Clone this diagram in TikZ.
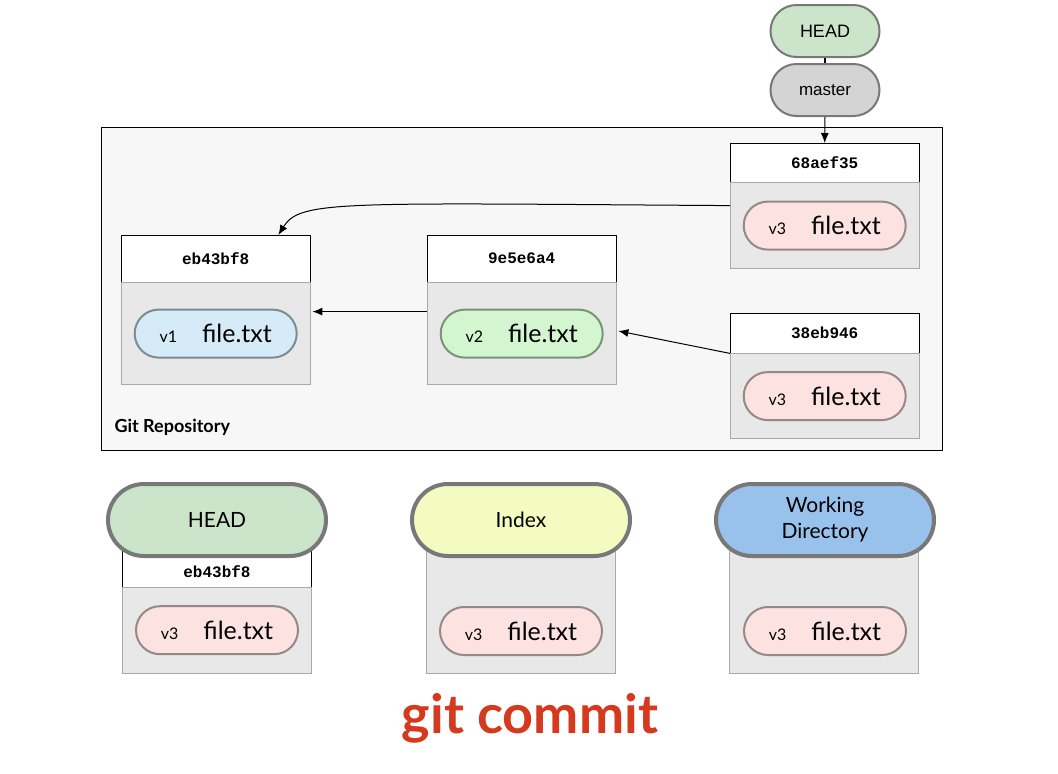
\documentclass[tikz,border=0pt]{standalone}
\usepackage{fontspec}
\setmainfont{Lato}
\setsansfont{Liberation Sans}
\setmonofont{Liberation Mono}
\usepackage{xcolor}
\usetikzlibrary{arrows.meta}
\definecolor{repofill}{HTML}{F7F7F7}
\definecolor{boxfill}{HTML}{E8E8E8}
\definecolor{boxline}{HTML}{A9A9A9}
\definecolor{bluefill}{HTML}{D5EBF7}
\definecolor{blueline}{HTML}{7B8C95}
\definecolor{greenfill}{HTML}{D3F5D0}
\definecolor{greenline}{HTML}{7A9479}
\definecolor{pinkfill}{HTML}{FDE2E2}
\definecolor{pinkline}{HTML}{978888}
\definecolor{headfill}{HTML}{CCE4C9}
\definecolor{masterfill}{HTML}{D4D4D4}
\definecolor{indexfill}{HTML}{F4FBC1}
\definecolor{wdfill}{HTML}{98C2EC}
\definecolor{pillline}{HTML}{787878}
\definecolor{cmdred}{HTML}{D63A1E}
\newcommand\blobtext[1]{{\fontsize{16}{16}\selectfont #1}\hspace{25pt}{\fontsize{25}{25}\selectfont file.txt}}
\tikzset{
  commithdr/.style={draw=black, fill=white, minimum width=189pt, inner sep=0pt,
    font=\fontsize{16}{16}\selectfont\ttfamily\bfseries},
  commitbody/.style={draw=boxline, fill=boxfill, minimum width=189pt, inner sep=0pt},
  blob/.style={draw=#1line, fill=#1fill, line width=2pt, rounded corners=24pt,
    minimum width=162pt, minimum height=48pt, inner sep=0pt},
  refpill/.style={draw=pillline, fill=#1, line width=2pt, rounded corners=26pt,
    minimum width=109pt, minimum height=52pt, inner sep=0pt,
    font=\fontsize{18}{18}\selectfont\sffamily},
  areapill/.style={draw=pillline, fill=#1, line width=4pt, rounded corners=36pt,
    minimum width=218pt, minimum height=72pt, inner sep=0pt, align=center,
    font=\fontsize{21}{26}\selectfont},
  parent/.style={-{Latex[length=10pt,width=8pt]}, line width=1pt}
}
\begin{document}
\begin{tikzpicture}[x=1pt,y=-1pt]
  \useasboundingbox[fill=white] (0,0) rectangle (1058,774);
  % repository
  \draw[fill=repofill] (101,127) rectangle (942,450);
  \node[anchor=west, font=\fontsize{18}{18}\selectfont\bfseries] (repo) at (111,427) {Git Repository};
  % commits
  \node[commithdr, minimum height=47pt, anchor=north west] (c1hdr) at (121,235) {eb43bf8};
  \node[commitbody, minimum height=102pt, anchor=north] (c1body) at (c1hdr.south) {};
  \node[blob=blue] (b1) at (c1body.center) {\blobtext{v1}};
  \node[commithdr, minimum height=47pt, anchor=north west] (c2hdr) at (427,235) {9e5e6a4};
  \node[commitbody, minimum height=102pt, anchor=north] (c2body) at (c2hdr.south) {};
  \node[blob=green] (b2) at (c2body.center) {\blobtext{v2}};
  \node[commithdr, minimum height=39pt, anchor=north west] (c3hdr) at (730,143) {68aef35};
  \node[commitbody, minimum height=86pt, anchor=north] (c3body) at (c3hdr.south) {};
  \node[blob=pink] (b3) at (c3body.center) {\blobtext{v3}};
  \node[commithdr, minimum height=40pt, anchor=north west] (c4hdr) at (730,313) {38eb946};
  \node[commitbody, minimum height=85pt, anchor=north] (c4body) at (c4hdr.south) {};
  \node[blob=pink] (b4) at (c4body.center) {\blobtext{v3}};
  % refs
  \node[refpill=headfill] (head) at (825,31) {HEAD};
  \node[refpill=masterfill, font=\fontsize{17}{17}\selectfont\sffamily] (master) at (825,90) {master};
  \draw[line width=1.5pt] (head.south) -- (master.north);
  \draw[parent] (master.south) -- (c3hdr.north);
  % parents
  \draw[parent] ([yshift=20pt]c3body.west) .. controls (340,203) and (300,200) .. ([xshift=-32pt]c1hdr.north east);
  \draw[parent, shorten >=2pt] ([yshift=22pt]c2body.west) -- ([yshift=22pt]c1body.east);
  \draw[parent, shorten >=2pt] (c4hdr.south west) -- ([yshift=3pt]c2body.east);
  % the three trees
  \node[commithdr, minimum height=47pt, anchor=south] (thdr) at (217,587) {};
  \node[commitbody, minimum height=86pt, anchor=north] (tbody) at (thdr.south) {};
  \node[font=\fontsize{16}{16}\selectfont\ttfamily\bfseries] (thash) at (217,572) {eb43bf8};
  \node[blob=pink] (tb) at (tbody.center) {\blobtext{v3}};
  \node[areapill=headfill] (thead) at (217,520) {HEAD};
  \node[commitbody, minimum height=133pt, anchor=south] (ibody) at (521,673) {};
  \node[blob=pink] (ib) at (521,631) {\blobtext{v3}};
  \node[areapill=indexfill] (index) at (521,520) {Index};
  \node[commitbody, minimum height=133pt, anchor=south] (wbody) at (824,673) {};
  \node[blob=pink] (wb) at (825,631) {\blobtext{v3}};
  \node[areapill=wdfill] (wd) at (825,520) {Working\\Directory};
  % command
  \node[text=cmdred, font=\fontsize{54}{54}\selectfont\bfseries] (cmd) at (530,718) {git commit};
\end{tikzpicture}
\end{document}
